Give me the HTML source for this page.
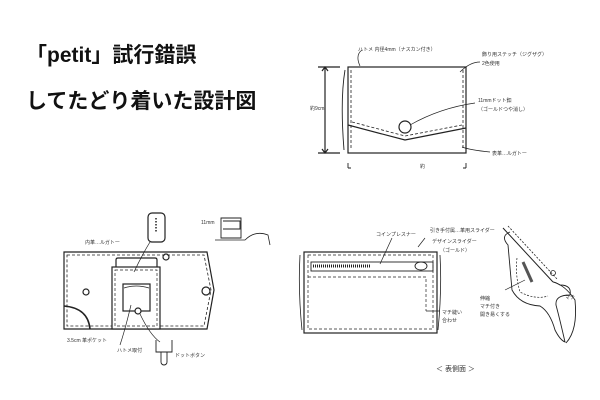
<!DOCTYPE html>
<html><head><meta charset="utf-8"><style>
body{margin:0;background:#fff;width:600px;height:400px;overflow:hidden}
svg{display:block}
.t{font-family:"Liberation Sans","Noto Sans CJK JP",sans-serif;font-weight:bold;fill:#111}
.s{font-family:"Liberation Sans","Noto Sans CJK JP",sans-serif;fill:#333;font-size:5px}
</style></head><body>
<svg width="600" height="400" viewBox="0 0 600 400" fill="none" stroke="#222" stroke-width="1.2">
<text class="t" x="26" y="62" font-size="21" stroke="none">「petit」試行錯誤</text>
<text class="t" x="26" y="108" font-size="21" stroke="none">してたどり着いた設計図</text>

<!-- top right wallet -->
<rect x="348" y="67" width="118" height="86"/>
<path d="M351 70V150M463 70V150" stroke-dasharray="3 2" stroke-width="0.8"/>
<path d="M348 125L405 140L466 128" />
<path d="M352 122L405 136L462 125" stroke-dasharray="3 2" stroke-width="0.8"/>
<circle cx="405" cy="127" r="6" fill="#fff"/>
<path d="M325 67V153M318 67H340M318 153H340M322 71L325 67L328 71M322 149L325 153L328 149"/>
<path d="M345 70Q340 100 344 150" stroke-width="0.9"/>
<path d="M348 163V168M466 163V168M348 168h3M463 168h3" stroke-width="0.9"/>
<path d="M410 125Q440 108 475 103M460 72Q470 62 480 62M360 66Q355 55 362 50M462 147Q470 150 490 152" stroke-width="0.7"/>
<text class="s" x="358" y="51" stroke="none">ハトメ 内径4mm（ナスカン付き）</text>
<text class="s" x="482" y="56" stroke="none">飾り用ステッチ（ジグザグ）</text>
<text class="s" x="482" y="65" stroke="none">2色使用</text>
<text class="s" x="478" y="102" stroke="none">11mmドット釦</text>
<text class="s" x="478" y="111" stroke="none">（ゴールドつや消し）</text>
<text class="s" x="492" y="155" stroke="none">表革…ルガトー</text>
<text class="s" x="310" y="110" stroke="none">約9cm</text>
<text class="s" x="420" y="168" stroke="none">約</text>

<!-- bottom left -->
<path d="M64 252H207L214 290L207 329H64Z"/>
<path d="M67 255H204L211 290L204 326H67Z" stroke-dasharray="3 2" stroke-width="0.8"/>
<rect x="112" y="267" width="48" height="62" fill="#fff"/>
<rect x="115" y="270" width="42" height="56" stroke-dasharray="3 2" stroke-width="0.7"/>
<path d="M116 267V260Q116 258 118 258H155Q157 258 157 260V267"/>
<rect x="123" y="284" width="27" height="27"/>
<path d="M124 288Q136 284 149 288" stroke-width="0.7"/>
<circle cx="138" cy="311" r="3" fill="#fff"/>
<rect x="148" y="213" width="17" height="29" rx="4"/>
<path d="M156 218v14" stroke-dasharray="1.5 1.5" stroke-width="1.5"/>
<path d="M150 242Q142 255 134 272M131 305Q125 330 120 345M140 314Q150 335 160 342" stroke-width="0.7"/>
<path d="M64 306Q88 308 90 329" stroke-width="1.6"/>
<circle cx="86" cy="292" r="3"/><circle cx="206" cy="291" r="4"/><circle cx="166" cy="257" r="3"/>
<path d="M156 340V352H172V340M161 352v10a3 3 0 0 0 6 0v-10" stroke-width="0.9"/>
<path d="M221 218h20v20h-20zM223 221h17v8h-17" stroke-width="0.9"/>
<path d="M215 240H245Q255 230 268 235L270 245" stroke-width="0.8"/>
<text class="s" x="85" y="244" stroke="none">内革…ルガトー</text>
<text class="s" x="67" y="342" stroke="none">3.5cm 革ポケット</text>
<text class="s" x="117" y="352" stroke="none">ハトメ取付</text>
<text class="s" x="175" y="357" stroke="none">ドットボタン</text>
<text class="s" x="201" y="224" stroke="none">11mm</text>

<!-- bottom right -->
<rect x="304" y="252" width="133" height="81"/>
<path d="M308 255H433V329H308Z" stroke-dasharray="3 2" stroke-width="0.7"/>
<path d="M308 277H426V311" stroke-dasharray="3 2" stroke-width="0.7"/>
<rect x="311" y="262" width="122" height="9" stroke-width="0.9"/>
<path d="M313 266H370" stroke="#222" stroke-width="3" stroke-dasharray="1 1"/>
<ellipse cx="421" cy="266" rx="6" ry="4" stroke-width="0.9"/>
<path d="M300 255Q298 290 302 330M440 255Q442 290 438 330M426 311H440" stroke-width="0.8"/>
<path d="M380 264L392 238M418 247L425 238" stroke-width="0.7"/>
<text class="s" x="376" y="236" stroke="none">コインプレスナー</text>
<text class="s" x="430" y="232" stroke="none">引き手付属…革用スライダー</text>
<text class="s" x="432" y="243" stroke="none">デザインスライダー</text>
<text class="s" x="440" y="252" stroke="none">（ゴールド）</text>
<text class="s" x="442" y="314" stroke="none">マチ縫い</text>
<text class="s" x="442" y="322" stroke="none">合わせ</text>
<text x="436" y="371" font-family="Liberation Sans,Noto Sans CJK JP,sans-serif" font-size="7" fill="#333" stroke="none">＜ 表側面 ＞</text>
<path d="M503 228L553 282" stroke-width="1"/>
<path d="M508 226L557 279" stroke-width="0.8" stroke-dasharray="2 1.5"/>
<path d="M510 232Q500 236 508 245L512 290Q520 305 540 306Q550 312 555 330Q560 340 565 342Q560 320 556 305Q555 295 570 295Q572 285 560 285Q555 282 553 282" stroke-width="0.9"/>
<path d="M553 282Q565 285 575 300Q578 330 566 343" stroke-width="0.9"/>
<path d="M517 258Q515 275 520 292Q535 300 548 296" stroke-dasharray="2 1.5" stroke-width="0.7"/>
<path d="M523 262L532 282" stroke="#555" stroke-width="3"/>
<circle cx="553" cy="273" r="2.5" stroke-width="0.8"/>
<path d="M505 290L525 280" stroke-width="0.6"/>
<text class="s" x="480" y="300" stroke="none">伸縮</text>
<text class="s" x="480" y="308" stroke="none">マチ付き</text>
<text class="s" x="480" y="316" stroke="none">開き易くする</text>
<text class="s" x="565" y="299" stroke="none">マチ</text>
</svg>
</body></html>
